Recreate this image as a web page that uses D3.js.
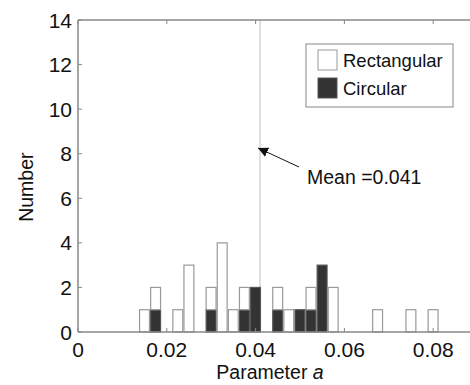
<!DOCTYPE html>
<html>
<head>
<meta charset="utf-8">
<script src="https://cdn.jsdelivr.net/npm/d3@7"></script>
<style>
  body { margin: 0; background: #fff; }
  text { font-family: "Liberation Sans", Arial, sans-serif; fill: #111; }
</style>
</head>
<body>
<div id="chart"></div>
<script>
// bin centres (parameter a) and counts per shape
var binCenters = [0.015, 0.0175, 0.02, 0.0225, 0.025, 0.0275, 0.03, 0.0325, 0.035, 0.0375,
                  0.04, 0.0425, 0.045, 0.0475, 0.05, 0.0525, 0.055, 0.0575, 0.06, 0.0625,
                  0.065, 0.0675, 0.07, 0.0725, 0.075, 0.0775, 0.08];
var circular    = [0, 1, 0, 0, 0, 0, 1, 0, 0, 1, 2, 0, 1, 0, 1, 1, 3, 0, 0, 0, 0, 0, 0, 0, 0, 0, 0];
var rectangular = [1, 1, 0, 1, 3, 0, 1, 4, 1, 1, 0, 0, 1, 1, 0, 1, 0, 2, 0, 0, 0, 1, 0, 0, 1, 0, 1];
var binWidth = 0.0025;
var meanValue = 0.041;
var xTicks = [0, 0.02, 0.04, 0.06, 0.08];
var yTicks = [0, 2, 4, 6, 8, 10, 12, 14];

var width = 470,
    height = 385;
var margin = {top: 20, left: 78, bottom: 53};

var svg = d3.select("#chart")
            .append("svg")
              .attr("width", width)
              .attr("height", height);

var x = d3.scaleLinear()
          .domain([0, 0.09])
          .range([margin.left, margin.left + 0.09 * 4440]);

var y = d3.scaleLinear()
          .domain([0, 14])
          .range([height - margin.bottom, margin.top]);

// build rows for the stack
var rows = binCenters.map(function(c, i) {
  return {center: c, Circular: circular[i], Rectangular: rectangular[i]};
});
var stack = d3.stack().keys(["Circular", "Rectangular"]);
var layers = stack(rows);

var fills = {Circular: "#333", Rectangular: "#fff"};
var strokes = {Circular: "#555", Rectangular: "#999"};

// mean line
svg.append("line")
  .attr("x1", x(meanValue)).attr("x2", x(meanValue))
  .attr("y1", y(14)).attr("y2", y(0))
  .attr("stroke", "#ccc")
  .attr("stroke-width", 1.2);

// bars
svg.selectAll(".layer")
  .data(layers)
  .enter()
  .append("g")
    .attr("class", "layer")
  .selectAll("rect")
  .data(function(d) { return d.map(function(v) { v.key = d.key; return v; }); })
  .enter()
  .append("rect")
    .attr("x", function(d) { return x(d.data.center - binWidth / 2) + 0.5; })
    .attr("width", function(d) { return x(binWidth) - x(0) - 1.2; })
    .attr("y", function(d) { return y(d[1]); })
    .attr("height", function(d) { return y(d[0]) - y(d[1]); })
    .attr("fill", function(d) { return fills[d.key]; })
    .attr("stroke", function(d) { return strokes[d.key]; })
    .attr("stroke-width", 1.2);

// axes box
var axisColor = "#888";
svg.append("line")
  .attr("x1", x(0)).attr("x2", width)
  .attr("y1", y(0)).attr("y2", y(0))
  .attr("stroke", axisColor).attr("stroke-width", 1.5);
svg.append("line")
  .attr("x1", x(0)).attr("x2", width)
  .attr("y1", y(14)).attr("y2", y(14))
  .attr("stroke", axisColor).attr("stroke-width", 1.5);
svg.append("line")
  .attr("x1", x(0)).attr("x2", x(0))
  .attr("y1", y(0)).attr("y2", y(14))
  .attr("stroke", axisColor).attr("stroke-width", 1.5);

// y ticks and labels
svg.selectAll(".ytick")
  .data(yTicks)
  .enter()
  .append("line")
    .attr("x1", x(0)).attr("x2", x(0) + 4)
    .attr("y1", function(d) { return y(d); })
    .attr("y2", function(d) { return y(d); })
    .attr("stroke", axisColor);
svg.selectAll(".ylabel")
  .data(yTicks)
  .enter()
  .append("text")
    .attr("x", x(0) - 6)
    .attr("y", function(d) { return y(d) + 7.5; })
    .attr("text-anchor", "end")
    .style("font-size", "21px")
    .text(function(d) { return d; });

// x ticks and labels
svg.selectAll(".xtick")
  .data(xTicks)
  .enter()
  .append("line")
    .attr("x1", function(d) { return x(d); })
    .attr("x2", function(d) { return x(d); })
    .attr("y1", y(0)).attr("y2", y(0) - 4)
    .attr("stroke", axisColor);
svg.selectAll(".xtick2")
  .data(xTicks)
  .enter()
  .append("line")
    .attr("x1", function(d) { return x(d); })
    .attr("x2", function(d) { return x(d); })
    .attr("y1", y(14)).attr("y2", y(14) + 4)
    .attr("stroke", axisColor);
svg.selectAll(".xlabel")
  .data(xTicks)
  .enter()
  .append("text")
    .attr("x", function(d) { return x(d); })
    .attr("y", y(0) + 25)
    .attr("text-anchor", "middle")
    .style("font-size", "21px")
    .text(function(d) { return d; });

// axis titles
var xTitle = svg.append("text")
  .attr("x", 270)
  .attr("y", 379)
  .attr("text-anchor", "middle")
  .style("font-size", "19.5px");
xTitle.append("tspan").text("Parameter ");
xTitle.append("tspan").style("font-style", "italic").text("a");

svg.append("text")
  .attr("transform", "translate(33," + y(6.5) + ") rotate(-90)")
  .attr("text-anchor", "middle")
  .style("font-size", "19.5px")
  .text("Number");

// mean annotation
svg.append("defs").append("marker")
  .attr("id", "arrow")
  .attr("viewBox", "0 0 10 10")
  .attr("refX", 10).attr("refY", 5)
  .attr("markerWidth", 10).attr("markerHeight", 10)
  .attr("markerUnits", "userSpaceOnUse")
  .attr("orient", "auto")
  .append("path")
    .attr("d", "M0,0 L10,5 L0,10 z")
    .attr("fill", "#111");

svg.append("line")
  .attr("x1", 299).attr("y1", 167)
  .attr("x2", x(meanValue) - 2).attr("y2", 148)
  .attr("stroke", "#111")
  .attr("stroke-width", 1)
  .attr("marker-end", "url(#arrow)");

svg.append("text")
  .attr("x", 307)
  .attr("y", 184)
  .style("font-size", "19.5px")
  .text("Mean =" + meanValue);

// legend
var legend = svg.append("g")
  .attr("transform", "translate(306,44)");
legend.append("rect")
  .attr("width", 147).attr("height", 63)
  .attr("fill", "#fff")
  .attr("stroke", "#888");
var legendItems = ["Rectangular", "Circular"];
legendItems.forEach(function(key, i) {
  legend.append("rect")
    .attr("x", 12).attr("y", 6 + i * 28)
    .attr("width", 19).attr("height", 20)
    .attr("fill", fills[key])
    .attr("stroke", strokes[key]);
  legend.append("text")
    .attr("x", 37).attr("y", 23 + i * 28)
    .style("font-size", "18.5px")
    .text(key);
});
</script>
</body>
</html>
